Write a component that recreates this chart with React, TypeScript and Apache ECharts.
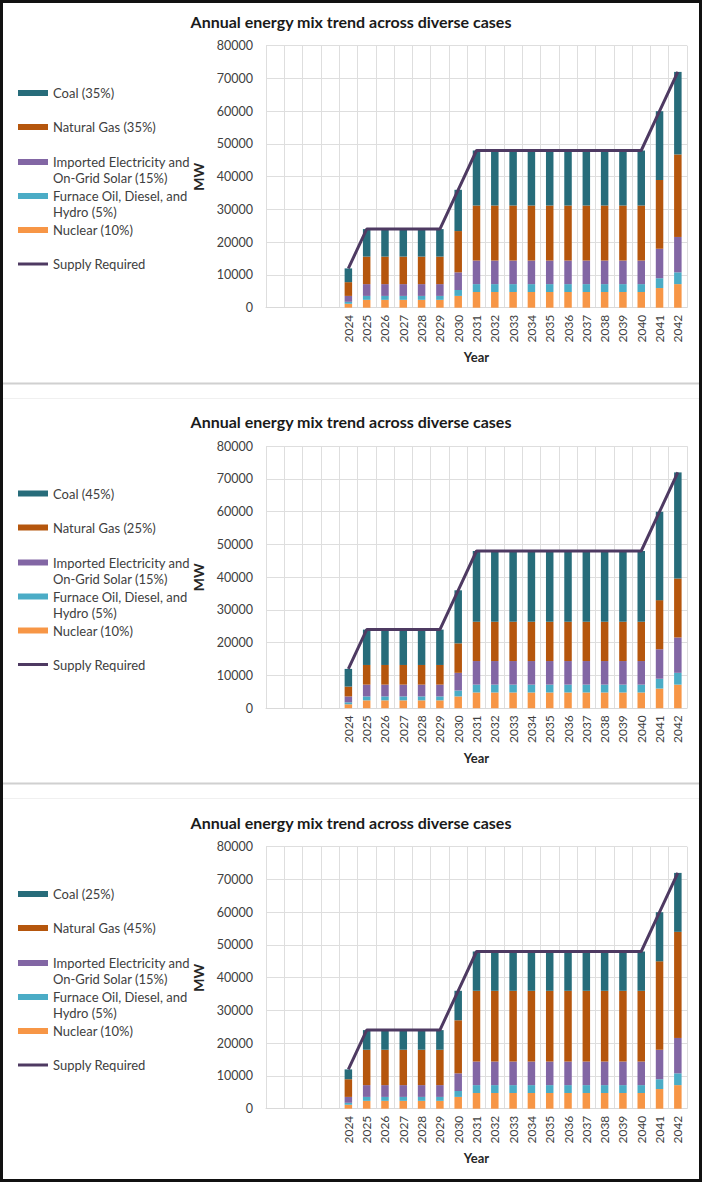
import React, { useEffect, useRef } from "react";
import * as echarts from "echarts";

const years = ["2024","2025","2026","2027","2028","2029","2030","2031","2032","2033","2034","2035","2036","2037","2038","2039","2040","2041","2042"];
const emptySlots = [" ", "  ", "   ", "    "];
const categories = [...emptySlots, ...years];

const supplyRequired = [12000,24000,24000,24000,24000,24000,36000,48000,48000,48000,48000,48000,48000,48000,48000,48000,48000,60000,72000];
const nuclear = [1200,2400,2400,2400,2400,2400,3600,4800,4800,4800,4800,4800,4800,4800,4800,4800,4800,6000,7200];
const furnace = [600,1200,1200,1200,1200,1200,1800,2400,2400,2400,2400,2400,2400,2400,2400,2400,2400,3000,3600];
const imported = [1800,3600,3600,3600,3600,3600,5400,7200,7200,7200,7200,7200,7200,7200,7200,7200,7200,9000,10800];
const share35 = [4200,8400,8400,8400,8400,8400,12600,16800,16800,16800,16800,16800,16800,16800,16800,16800,16800,21000,25200];
const share45 = [5400,10800,10800,10800,10800,10800,16200,21600,21600,21600,21600,21600,21600,21600,21600,21600,21600,27000,32400];
const share25 = [3000,6000,6000,6000,6000,6000,9000,12000,12000,12000,12000,12000,12000,12000,12000,12000,12000,15000,18000];

const cases = [
  { coalName: "Coal (35%)", gasName: "Natural Gas (35%)", coal: share35, gas: share35 },
  { coalName: "Coal (45%)", gasName: "Natural Gas (25%)", coal: share45, gas: share25 },
  { coalName: "Coal (25%)", gasName: "Natural Gas (45%)", coal: share25, gas: share45 },
];

const importedName = "Imported Electricity and On-Grid Solar (15%)";
const furnaceName = "Furnace Oil, Diesel, and Hydro (5%)";
const nuclearName = "Nuclear (10%)";
const supplyName = "Supply Required";
const titleText = "Annual energy mix trend across diverse cases";

const wrapped: Record<string, string> = {
  [importedName]: " \nImported Electricity and\nOn-Grid Solar (15%)",
  [furnaceName]: " \nFurnace Oil, Diesel, and\nHydro (5%)",
};

const COLORS = {
  coal: "#276C7A",
  gas: "#B5560D",
  imported: "#8266A4",
  furnace: "#4BACC6",
  nuclear: "#F79646",
  supply: "#4E3A62",
};

const FONT = "Lato, 'Noto Sans', sans-serif";
const pad = (arr: number[]) => [...emptySlots.map(() => "-"), ...arr];

export default function App() {
  const ref = useRef<HTMLDivElement>(null);
  useEffect(() => {
    if (!ref.current) return;
    const chart = echarts.init(ref.current, null, { renderer: "svg" });
    const offsets = [0, 400.5, 801];
    const titles: any[] = [];
    const grids: any[] = [];
    const xAxes: any[] = [];
    const yAxes: any[] = [];
    const legends: any[] = [];
    const series: any[] = [];

    cases.forEach((c, i) => {
      const o = offsets[i];
      titles.push({
        text: titleText,
        left: "center",
        top: 8 + o,
        textStyle: { fontFamily: FONT, fontSize: 16, fontWeight: "bold", color: "#1a1a1a" },
      });
      grids.push({ left: 266, right: 15, top: 45.7 + o, height: 262, containLabel: false });
      xAxes.push({
        type: "category",
        gridIndex: i,
        data: categories,
        boundaryGap: true,
        axisLine: { lineStyle: { color: "#d9d9d9" } },
        axisTick: { show: false },
        axisLabel: { rotate: 90, interval: 0, margin: 7, fontFamily: FONT, fontSize: 12, color: "#404040" },
        splitLine: { show: true, interval: 0, lineStyle: { color: "#dedede" } },
        name: "Year",
        nameLocation: "middle",
        nameGap: 43,
        nameTextStyle: { fontFamily: FONT, fontSize: 13, fontWeight: "bold", color: "#262626" },
      });
      yAxes.push({
        type: "value",
        gridIndex: i,
        min: 0,
        max: 80000,
        interval: 10000,
        axisLine: { show: false },
        axisTick: { show: false },
        axisLabel: {
          margin: 13,
          fontFamily: FONT,
          fontSize: 12.5,
          color: "#404040",
          formatter: (v: number) => String(v),
        },
        splitLine: { show: true, lineStyle: { color: "#dedede" } },
        name: "MW",
        nameLocation: "middle",
        nameRotate: 90,
        nameGap: 49,
        nameTextStyle: { fontFamily: FONT, fontSize: 14, fontWeight: "bold", color: "#262626" },
      });

      const legendItems = [
        { name: c.coalName, center: 93, two: false, color: COLORS.coal, h: 6 },
        { name: c.gasName, center: 127, two: false, color: COLORS.gas, h: 6 },
        { name: importedName, center: 162, two: true, color: COLORS.imported, h: 6 },
        { name: furnaceName, center: 196, two: true, color: COLORS.furnace, h: 6 },
        { name: nuclearName, center: 230, two: false, color: COLORS.nuclear, h: 6 },
        { name: supplyName, center: 264, two: false, color: COLORS.supply, h: 3 },
      ];
      legendItems.forEach((it) => {
        const blockH = it.two ? 48 : 16;
        legends.push({
          orient: "vertical",
          left: 18,
          top: it.center - blockH / 2 + o,
          data: [it.name],
          icon: "rect",
          itemWidth: 30,
          itemHeight: it.h,
          itemGap: 0,
          padding: 0,
          selectedMode: false,
          formatter: (n: string) => wrapped[n] || n,
          textStyle: {
            fontFamily: FONT,
            fontSize: 13,
            lineHeight: 16,
            color: "#404040",
          },
          itemStyle: { color: it.color },
        });
      });

      const stack = "mix" + i;
      const barBase = { type: "bar", stack, xAxisIndex: i, yAxisIndex: i, barWidth: 7.5 };
      series.push({ ...barBase, name: nuclearName, itemStyle: { color: COLORS.nuclear }, data: pad(nuclear) });
      series.push({ ...barBase, name: furnaceName, itemStyle: { color: COLORS.furnace }, data: pad(furnace) });
      series.push({ ...barBase, name: importedName, itemStyle: { color: COLORS.imported }, data: pad(imported) });
      series.push({ ...barBase, name: c.gasName, itemStyle: { color: COLORS.gas }, data: pad(c.gas) });
      series.push({ ...barBase, name: c.coalName, itemStyle: { color: COLORS.coal }, data: pad(c.coal) });
      series.push({
        type: "line",
        name: supplyName,
        xAxisIndex: i,
        yAxisIndex: i,
        symbol: "none",
        z: 5,
        itemStyle: { color: COLORS.supply },
        lineStyle: { color: COLORS.supply, width: 3 },
        data: pad(supplyRequired),
      });
    });

    chart.setOption({
      animation: false,
      backgroundColor: "#ffffff",
      title: titles,
      grid: grids,
      xAxis: xAxes,
      yAxis: yAxes,
      legend: legends,
      series,
      graphic: [
        { type: "line", shape: { x1: 2, y1: 383.5, x2: 700, y2: 383.5 }, style: { stroke: "#d0d0d0", lineWidth: 2 }, silent: true },
        { type: "line", shape: { x1: 2, y1: 398.5, x2: 700, y2: 398.5 }, style: { stroke: "#f0f0f0", lineWidth: 1 }, silent: true },
        { type: "line", shape: { x1: 2, y1: 783.5, x2: 700, y2: 783.5 }, style: { stroke: "#d0d0d0", lineWidth: 2 }, silent: true },
        { type: "line", shape: { x1: 2, y1: 798.5, x2: 700, y2: 798.5 }, style: { stroke: "#f0f0f0", lineWidth: 1 }, silent: true },
        { type: "rect", shape: { x: 1.5, y: 1.5, width: 699, height: 1179 }, style: { fill: "none", stroke: "#111111", lineWidth: 3 }, silent: true, z: 100 },
      ],
    });
    return () => chart.dispose();
  }, []);

  return (
    <div
      ref={ref}
      style={{ position: "absolute", left: 0, top: 0, width: 702, height: 1182, background: "#fff" }}
    />
  );
}
